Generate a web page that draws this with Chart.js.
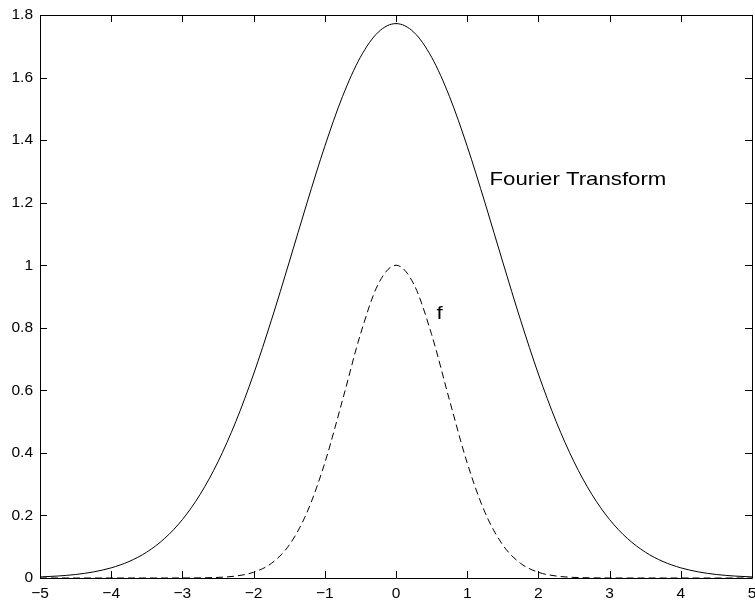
<!DOCTYPE html>
<html><head><meta charset="utf-8">
<script src="https://cdn.jsdelivr.net/npm/chart.js@4/dist/chart.umd.min.js"></script>
<style>html,body{margin:0;padding:0;background:#fff;overflow:hidden}#wrap{width:755px;height:601px}</style>
</head><body><div id="wrap"><canvas id="c" width="755" height="601"></canvas></div>
<script>
const xValues = [-5,-4.75,-4.5,-4.25,-4,-3.75,-3.5,-3.25,-3,-2.75,-2.5,-2.25,-2,-1.75,-1.5,-1.25,-1,-0.75,-0.5,-0.25,0,0.25,0.5,0.75,1,1.25,1.5,1.75,2,2.25,2.5,2.75,3,3.25,3.5,3.75,4,4.25,4.5,4.75,5];
const fourierValues = [0.0034,0.0063,0.0112,0.0194,0.0325,0.0527,0.0829,0.1264,0.1868,0.2676,0.3715,0.4999,0.6520,0.8243,1.0099,1.1994,1.3804,1.5400,1.6651,1.7450,1.7725,1.7450,1.6651,1.5400,1.3804,1.1994,1.0099,0.8243,0.6520,0.4999,0.3715,0.2676,0.1868,0.1264,0.0829,0.0527,0.0325,0.0194,0.0112,0.0063,0.0034];
const fValues = [0,0,0,0,0,0,0,0,0.0001,0.0005,0.0019,0.0063,0.0183,0.0468,0.1054,0.2096,0.3679,0.5698,0.7788,0.9394,1.0,0.9394,0.7788,0.5698,0.3679,0.2096,0.1054,0.0468,0.0183,0.0063,0.0019,0.0005,0.0001,0,0,0,0,0,0,0,0];
const xTicks = [-5,-4,-3,-2,-1,0,1,2,3,4,5];
const yTicks = [0,0.2,0.4,0.6,0.8,1,1.2,1.4,1.6,1.8];
const labels = [{text:"Fourier Transform", x:1.313, y:1.256},{text:"f", x:0.569, y:0.829}];

const fmt = v => { const s = String(Math.round(v*10)/10); return s.replace('-', '\u2212'); };

const boxPlugin = {
  id:'box',
  afterDatasetsDraw(chart){
    const {ctx, chartArea:a, scales:{x,y}} = chart;
    ctx.save();
    ctx.strokeStyle='#000'; ctx.lineWidth=1;
    ctx.beginPath();
    ctx.rect(Math.round(a.left)+0.5, Math.round(a.top)+0.5, Math.round(a.right-a.left), Math.round(a.bottom-a.top));
    ctx.stroke();
    const L=7;
    ctx.beginPath();
    xTicks.forEach(v=>{const px=Math.round(x.getPixelForValue(v))+0.5;
      ctx.moveTo(px,a.bottom);ctx.lineTo(px,a.bottom-L);
      ctx.moveTo(px,a.top);ctx.lineTo(px,a.top+L);});
    yTicks.forEach(v=>{const py=Math.round(y.getPixelForValue(v))+0.5;
      ctx.moveTo(a.left,py);ctx.lineTo(a.left+L,py);
      ctx.moveTo(a.right,py);ctx.lineTo(a.right-L,py);});
    ctx.stroke();
    ctx.fillStyle='#000';
    ctx.font='18.5px "Liberation Sans", Arial, sans-serif';
    ctx.textBaseline='alphabetic'; ctx.textAlign='left';
    labels.forEach(l=>{
      const px=x.getPixelForValue(l.x), py=y.getPixelForValue(l.y);
      ctx.save(); ctx.translate(px,py); ctx.scale(1.2,1); ctx.fillText(l.text,0,0); ctx.restore();
    });
    ctx.restore();
  }
};

new Chart(document.getElementById('c'), {
  type:'line',
  data:{datasets:[
    {data:xValues.map((v,i)=>({x:v,y:fourierValues[i]})), borderColor:'#000', borderWidth:1, pointRadius:0, cubicInterpolationMode:'monotone', fill:false},
    {data:xValues.map((v,i)=>({x:v,y:fValues[i]})), borderColor:'#000', borderWidth:1, borderDash:[7,4], pointRadius:0, cubicInterpolationMode:'monotone', fill:false}
  ]},
  options:{
    responsive:false, animation:false,
    layout:{padding:{left:0,right:3,top:15,bottom:0}},
    plugins:{legend:{display:false},tooltip:{enabled:false}},
    scales:{
      x:{type:'linear',min:-5,max:5,
        afterBuildTicks:s=>{s.ticks=xTicks.map(v=>({value:v}));},
        afterFit:s=>{s.height=23;s.paddingRight=0;s.paddingLeft=0;},
        grid:{display:false,drawTicks:false}, border:{display:false},
        ticks:{padding:6,color:'#000',font:{family:'"Liberation Sans", Arial, sans-serif',size:15.5},callback:v=>fmt(v),maxRotation:0,autoSkip:false}},
      y:{type:'linear',min:0,max:1.8,
        afterBuildTicks:s=>{s.ticks=yTicks.map(v=>({value:v}));},
        afterFit:s=>{s.width=40;s.paddingTop=0;s.paddingBottom=0;},
        grid:{display:false,drawTicks:false}, border:{display:false},
        ticks:{padding:7,color:'#000',font:{family:'"Liberation Sans", Arial, sans-serif',size:15.5},callback:v=>fmt(v)}}
    }
  },
  plugins:[boxPlugin]
});
</script></body></html>
